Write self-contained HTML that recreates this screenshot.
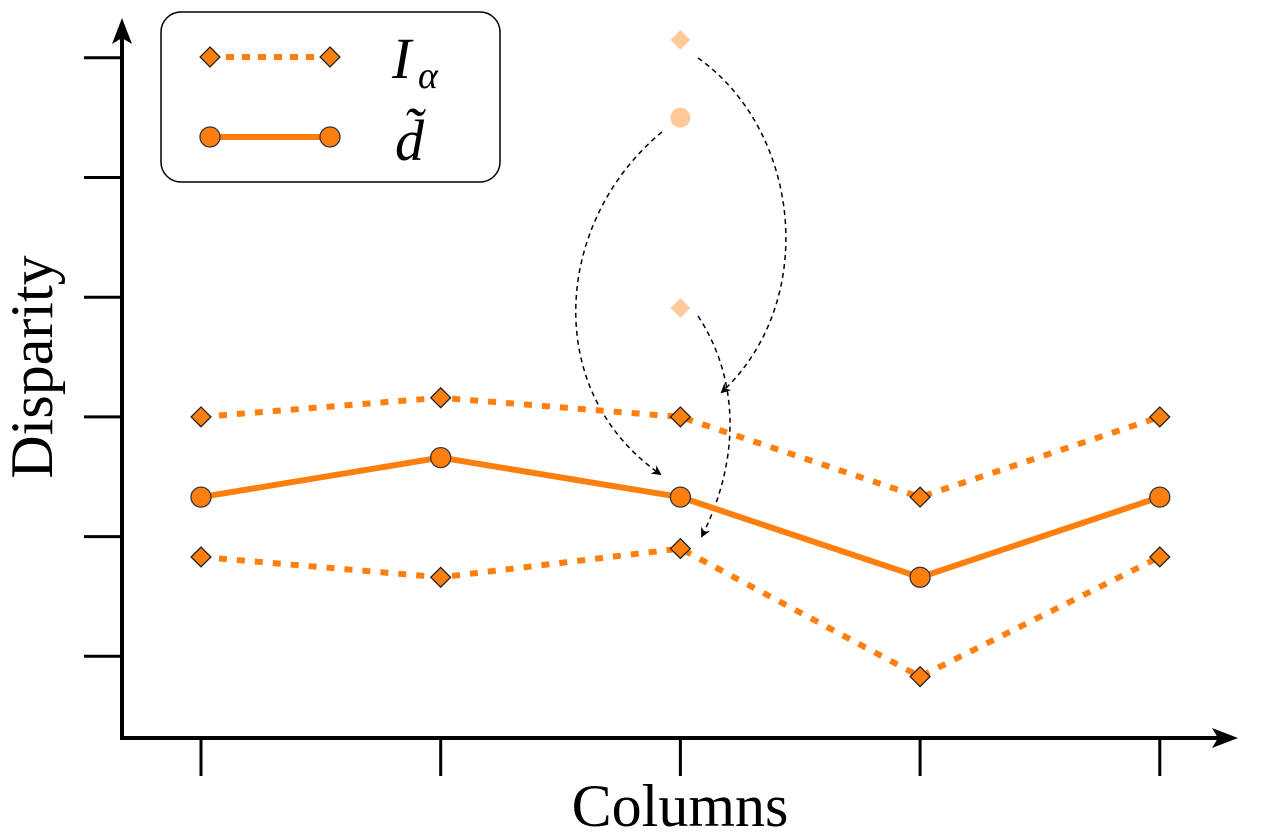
<!DOCTYPE html>
<html><head><meta charset="utf-8"><style>
html,body{margin:0;padding:0;background:#fff}
svg{display:block}
text{font-family:"Liberation Serif",serif;fill:#000}
</style></head><body>
<svg id="chart" width="1262" height="838" viewBox="0 0 1262 838" xmlns="http://www.w3.org/2000/svg">
<defs>
<marker id="ah" markerWidth="10" markerHeight="10" refX="8" refY="5" orient="auto" markerUnits="userSpaceOnUse"><path d="M0,0 L10,5 L0,10 L3,5 z" fill="#000"/></marker>
</defs>
<g id="axes"></g>
<g id="ghost"></g>
<g id="arrows">
<path d="M698,58 C800,130 820,300 722,392" fill="none" stroke="#000" stroke-width="1.5" stroke-dasharray="5,4" marker-end="url(#ah)"/>
<path d="M662,132 C555,220 540,390 660,474" fill="none" stroke="#000" stroke-width="1.5" stroke-dasharray="5,4" marker-end="url(#ah)"/>
<path d="M698,316 C740,380 740,460 702,536" fill="none" stroke="#000" stroke-width="1.5" stroke-dasharray="5,4" marker-end="url(#ah)"/>
</g>
<g id="series"></g>
<g id="legend">
<rect x="161" y="12" width="339" height="170" rx="20" fill="#fff" stroke="#000" stroke-width="1.5"/>
<g>
<line x1="210" y1="57" x2="330" y2="57" stroke="#ff7f0e" stroke-width="6" stroke-dasharray="8,8"/>
<rect x="203" y="50" width="14" height="14" transform="rotate(45 210 57)" fill="#ff7f0e" stroke="#222" stroke-width="1.3"/>
<rect x="323" y="50" width="14" height="14" transform="rotate(45 330 57)" fill="#ff7f0e" stroke="#222" stroke-width="1.3"/>
<text x="392" y="78" font-size="58" font-style="italic">I</text><text x="418" y="88" font-size="38" font-style="italic">α</text>
</g>
<g>
<line x1="210" y1="137" x2="330" y2="137" stroke="#ff7f0e" stroke-width="6"/>
<circle cx="210" cy="137" r="10" fill="#ff7f0e" stroke="#334" stroke-width="1.3"/>
<circle cx="330" cy="137" r="10" fill="#ff7f0e" stroke="#334" stroke-width="1.3"/>
<text x="395" y="160" font-size="58" font-style="italic">d̃</text>
</g>
</g>
<text x="680" y="826" font-size="60" text-anchor="middle">Columns</text>
<text transform="translate(52,367) rotate(-90)" font-size="60" text-anchor="middle">Disparity</text>
</svg>
<script>
const categories=[1,2,3,4,5];
const dValues=[2.33,2.66,2.33,1.66,2.33];
const upperValues=[3.0,3.16,3.0,2.33,3.0];
const lowerValues=[1.83,1.66,1.9,0.83,1.83];
const ghostDiamonds=[6.15,3.91];
const ghostCircles=[5.5];
const ghostCategory=3;
const yTicks=[1,2,3,4,5,6];
const NS='http://www.w3.org/2000/svg';
const xs=c=>201+(c-1)*239.7;
const ys=v=>776-119.7*v;
function mk(t,a,p){const e=document.createElementNS(NS,t);for(const k in a)e.setAttribute(k,a[k]);p.appendChild(e);return e;}
const ax=document.getElementById('axes');
let e=mk('line',{x1:122,y1:738,x2:122,y2:28,stroke:'#000','stroke-width':4},ax);

e=mk('path',{d:'M122,18 L112,44 L122,38 L132,44 Z',fill:'#000'},ax);

e=mk('line',{x1:120,y1:738,x2:1228,y2:738,stroke:'#000','stroke-width':4},ax);

e=mk('path',{d:'M1238,738 L1212,728 L1218,738 L1212,748 Z',fill:'#000'},ax);

yTicks.forEach(v=>{const t=mk('line',{x1:84,y1:ys(v),x2:122,y2:ys(v),stroke:'#000','stroke-width':3},ax);
});
categories.forEach(c=>{const t=mk('line',{x1:xs(c),y1:738,x2:xs(c),y2:776,stroke:'#000','stroke-width':3},ax);
});
const gh=document.getElementById('ghost');
ghostDiamonds.forEach(v=>{const d=mk('rect',{x:xs(ghostCategory)-7,y:ys(v)-7,width:14,height:14,transform:`rotate(45 ${xs(ghostCategory)} ${ys(v)})`,fill:'#ffc999'},gh);
});
ghostCircles.forEach(v=>{const c=mk('circle',{cx:xs(ghostCategory),cy:ys(v),r:10,fill:'#ffc999'},gh);
});
const sg=document.getElementById('series');
function line(vals,dash,name){const p=mk('polyline',{points:vals.map((v,i)=>xs(categories[i])+','+ys(v)).join(' '),fill:'none',stroke:'#ff7f0e','stroke-width':6},sg);
if(dash)p.setAttribute('stroke-dasharray','8,10');
}
line(upperValues,true,'i-alpha-upper-line');line(lowerValues,true,'i-alpha-lower-line');line(dValues,false,'d-tilde-line');
function diamonds(vals,name){vals.forEach((v,i)=>{const x=xs(categories[i]),y=ys(v);
const r=mk('rect',{x:x-7,y:y-7,width:14,height:14,transform:`rotate(45 ${x} ${y})`,fill:'#ff7f0e',stroke:'#222','stroke-width':1.3},sg);
});}
diamonds(upperValues,'i-alpha-upper-point');diamonds(lowerValues,'i-alpha-lower-point');
dValues.forEach((v,i)=>{const c=mk('circle',{cx:xs(categories[i]),cy:ys(v),r:10,fill:'#ff7f0e',stroke:'#334','stroke-width':1.3},sg);
});
</script>
</body></html>
